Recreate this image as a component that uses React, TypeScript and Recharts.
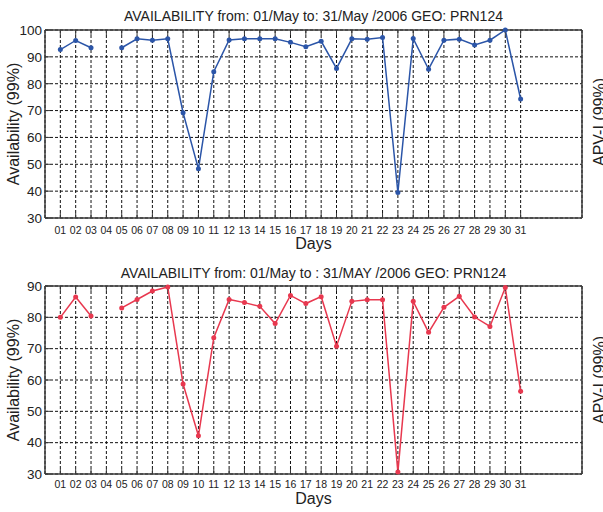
import { CartesianGrid, Label, Line, LineChart, XAxis, YAxis } from "recharts";

// May 2006, day of month
const days = [1, 2, 3, 4, 5, 6, 7, 8, 9, 10, 11, 12, 13, 14, 15, 16, 17, 18, 19, 20, 21, 22, 23, 24, 25, 26, 27, 28, 29, 30, 31];

// GEO PRN124 availability (%), day 04 has no record
const geoAvailability = [
  92.7, 96.1, 93.4, null, 93.4, 96.7, 96.2, 96.7, 69.2, 48.3, 84.5, 96.3, 96.7, 96.7, 96.7, 95.4,
  93.8, 95.8, 85.7, 96.7, 96.6, 97.2, 39.5, 96.8, 85.4, 96.2, 96.6, 94.4, 96.2, 100, 74.3,
];

// APV-I availability (%)
const apvAvailability = [
  80, 86.5, 80.4, null, 83, 85.7, 88.4, 89.7, 58.7, 42.2, 73.5, 85.7, 84.7, 83.5, 78, 87,
  84.4, 86.6, 70.8, 85.1, 85.6, 85.6, 30.6, 85.1, 75.2, 83.2, 86.7, 80.1, 77.1, 89.5, 56.4,
];

const geoTicks = [30, 40, 50, 60, 70, 80, 90, 100];
const apvTicks = [30, 40, 50, 60, 70, 80, 90];

const titles = [
  "AVAILABILITY from: 01/May to: 31/May /2006 GEO: PRN124",
  "AVAILABILITY from: 01/May to : 31/MAY /2006 GEO: PRN124",
];

const WIDTH = 603;
const FONT = "'Liberation Sans', Arial, Helvetica, sans-serif";
const AXIS = "#3a3a3a";
const TEXT = "#222";

const pad = (d: number) => String(d).padStart(2, "0");
const blank = () => <g />;

interface PanelProps {
  values: (number | null)[];
  color: string;
  yTicks: number[];
  top: number;
  height: number;
  tickGap: number;
  daysOffset: number;
}

function AvailabilityPanel({ values, color, yTicks, top, height, tickGap, daysOffset }: PanelProps) {
  const data = days.map((day, i) => ({ day, value: values[i] }));
  const domain = [yTicks[0], yTicks[yTicks.length - 1]];
  const axisLine = { stroke: AXIS, strokeWidth: 1.5 };

  return (
    <LineChart width={WIDTH} height={height} data={data} margin={{ top, right: 20, bottom: 2, left: 0 }}>
      <CartesianGrid stroke="#111" strokeDasharray="3 2" />
      <XAxis
        dataKey="day"
        type="number"
        domain={[0, 35]}
        ticks={days}
        interval={0}
        tickFormatter={pad}
        tickSize={-5}
        tickMargin={tickGap}
        height={36}
        stroke={AXIS}
        axisLine={axisLine}
        tick={{ fill: TEXT, fontSize: 10.5, fontFamily: FONT }}
      >
        <Label value="Days" position="insideBottom" offset={daysOffset} style={{ fontSize: 16, fill: TEXT, fontFamily: FONT }} />
      </XAxis>
      <XAxis
        xAxisId="top"
        orientation="top"
        dataKey="day"
        type="number"
        domain={[0, 35]}
        ticks={days}
        interval={0}
        tickSize={-5}
        height={1}
        stroke={AXIS}
        axisLine={axisLine}
        tick={blank}
      />
      <YAxis
        domain={domain}
        ticks={yTicks}
        interval={0}
        width={45}
        tickSize={-5}
        tickMargin={8}
        stroke={AXIS}
        axisLine={axisLine}
        tick={{ fill: TEXT, fontSize: 13.5, fontFamily: FONT }}
      >
        <Label
          value="Availability (99%)"
          angle={-90}
          position="insideLeft"
          offset={13}
          style={{ textAnchor: "middle", fontSize: 16, fill: TEXT, fontFamily: FONT }}
        />
      </YAxis>
      <YAxis
        yAxisId="right"
        orientation="right"
        domain={domain}
        ticks={yTicks}
        interval={0}
        width={1}
        tickSize={-5}
        stroke={AXIS}
        axisLine={axisLine}
        tick={blank}
      />
      <Line
        dataKey="value"
        stroke={color}
        strokeWidth={1.5}
        dot={{ r: 2.5, fill: color, stroke: color, strokeWidth: 0 }}
        activeDot={false}
        connectNulls={false}
        isAnimationActive={false}
      />
    </LineChart>
  );
}

export default function App() {
  return (
    <div style={{ position: "relative", width: WIDTH, height: 512, overflow: "hidden", background: "#fff" }}>
      <style>{"body{margin:0}"}</style>
      <AvailabilityPanel values={geoAvailability} color="#2b55a8" yTicks={geoTicks} top={29} height={256} tickGap={14} daysOffset={5} />
      <AvailabilityPanel values={apvAvailability} color="#e8384f" yTicks={apvTicks} top={29} height={256} tickGap={12} daysOffset={6} />
      <svg width={WIDTH} height={512} style={{ position: "absolute", left: 0, top: 0, pointerEvents: "none" }}>
        <g fontFamily={FONT} fill={TEXT}>
          <text x={313.5} y={20.5} textAnchor="middle" fontSize={14}>{titles[0]}</text>
          <text x={313.5} y={278} textAnchor="middle" fontSize={14}>{titles[1]}</text>
          <text x={604.5} y={122} textAnchor="middle" fontSize={16} transform="rotate(-90 604.5 122)">APV-I (99%)</text>
          <text x={604.5} y={380} textAnchor="middle" fontSize={16} transform="rotate(-90 604.5 380)">APV-I (99%)</text>
        </g>
      </svg>
    </div>
  );
}
